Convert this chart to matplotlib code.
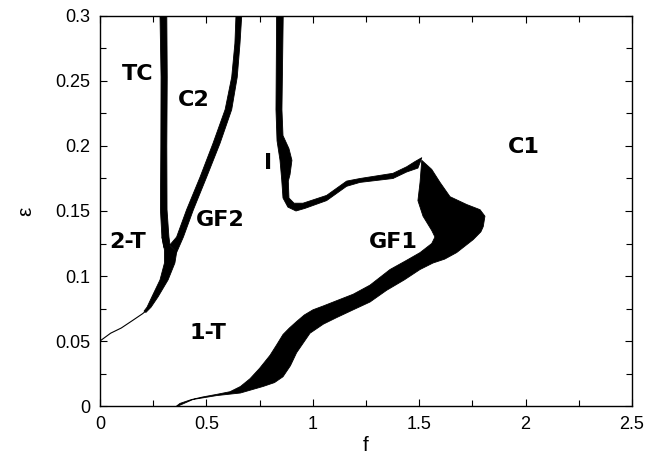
import matplotlib.pyplot as plt

# TC boundary band (left edge top->down, right edge top->down)
tc_left_f = [0.282, 0.287, 0.286, 0.284, 0.291, 0.300]
tc_left_eps = [0.300, 0.253, 0.200, 0.151, 0.130, 0.122]
tc_right_f = [0.314, 0.316, 0.314, 0.315, 0.324, 0.329]
tc_right_eps = [0.300, 0.253, 0.200, 0.151, 0.130, 0.124]

# C2 / GF2 boundary band (left edge top->down, right edge top->down)
c2_left_f = [0.639, 0.634, 0.619, 0.588, 0.531, 0.470, 0.407, 0.360, 0.329]
c2_left_eps = [0.300, 0.279, 0.253, 0.228, 0.202, 0.176, 0.151, 0.130, 0.124]
c2_right_f = [0.666, 0.658, 0.645, 0.619, 0.564, 0.501, 0.439, 0.392, 0.360]
c2_right_eps = [0.300, 0.279, 0.253, 0.228, 0.202, 0.176, 0.151, 0.130, 0.118]

# merged band below the V (left edge top->down, right edge top->down)
low_left_f = [0.291, 0.303, 0.303, 0.282, 0.244, 0.221, 0.207]
low_left_eps = [0.130, 0.120, 0.110, 0.097, 0.084, 0.076, 0.073]
low_right_f = [0.360, 0.352, 0.320, 0.273, 0.240, 0.216]
low_right_eps = [0.118, 0.110, 0.097, 0.084, 0.076, 0.072]

# thin line down to the eps axis
thin_f = [0.000, 0.050, 0.100, 0.155, 0.200, 0.215]
thin_eps = [0.050, 0.056, 0.060, 0.066, 0.071, 0.073]

# I boundary band (outer edge, inner edge)
i_outer_f = [0.830, 0.827, 0.832, 0.846, 0.854, 0.860, 0.883, 0.921, 0.963,
             1.065, 1.159, 1.222, 1.377, 1.441, 1.494, 1.508]
i_outer_eps = [0.300, 0.228, 0.204, 0.189, 0.174, 0.160, 0.153, 0.150, 0.152,
               0.158, 0.169, 0.172, 0.175, 0.180, 0.183, 0.189]
i_inner_f = [0.861, 0.855, 0.860, 0.888, 0.902, 0.893, 0.885, 0.888, 0.912,
             0.954, 1.065, 1.159, 1.222, 1.377, 1.441, 1.480, 1.512]
i_inner_eps = [0.300, 0.228, 0.208, 0.198, 0.189, 0.178, 0.173, 0.160, 0.156,
               0.156, 0.162, 0.173, 0.175, 0.179, 0.184, 0.188, 0.191]

# GF1 band with the blob (upper edge, lower edge, from the f axis up)
gf1_upper_f = [0.360, 0.376, 0.430, 0.484, 0.550, 0.611, 0.660, 0.705, 0.750,
               0.799, 0.830, 0.860, 0.890, 0.924, 0.960, 1.001, 1.050, 1.112,
               1.190, 1.269, 1.363, 1.440, 1.504, 1.559, 1.574, 1.559, 1.518,
               1.494, 1.504, 1.512]
gf1_upper_eps = [0.000, 0.002, 0.005, 0.007, 0.009, 0.011, 0.015, 0.021, 0.029,
                 0.039, 0.047, 0.055, 0.060, 0.065, 0.070, 0.074, 0.077, 0.081,
                 0.086, 0.093, 0.105, 0.112, 0.118, 0.125, 0.130, 0.135, 0.146,
                 0.158, 0.172, 0.189]
gf1_lower_f = [0.367, 0.437, 0.548, 0.660, 0.766, 0.820, 0.860, 0.895, 0.924,
               0.987, 1.050, 1.112, 1.190, 1.269, 1.347, 1.430, 1.504, 1.565,
               1.620, 1.676, 1.754, 1.790, 1.801, 1.809, 1.786, 1.723, 1.645,
               1.598, 1.559]
gf1_lower_eps = [0.000, 0.005, 0.008, 0.010, 0.015, 0.018, 0.0225, 0.031, 0.041,
                 0.056, 0.063, 0.068, 0.074, 0.080, 0.089, 0.097, 0.105, 0.110,
                 0.113, 0.118, 0.128, 0.134, 0.138, 0.146, 0.151, 0.155, 0.161,
                 0.172, 0.182]

region_labels = ['TC', 'C2', 'I', 'C1', '2-T', 'GF2', 'GF1', '1-T']
label_f = [0.179, 0.442, 0.792, 1.990, 0.129, 0.566, 1.379, 0.505]
label_eps = [0.255, 0.235, 0.187, 0.199, 0.126, 0.143, 0.126, 0.0565]

x_ticks = [0, 0.5, 1, 1.5, 2, 2.5]
x_ticklabels = ['0', '0.5', '1', '1.5', '2', '2.5']
x_minor = [0.25, 0.75, 1.25, 1.75, 2.25]
y_ticks = [0, 0.05, 0.1, 0.15, 0.2, 0.25, 0.3]
y_ticklabels = ['0', '0.05', '0.1', '0.15', '0.2', '0.25', '0.3']
y_minor = [0.025, 0.075, 0.125, 0.175, 0.225, 0.275]


def band(ax, f1, e1, f2, e2):
    xs = list(f1) + list(f2)[::-1]
    ys = list(e1) + list(e2)[::-1]
    ax.fill(xs, ys, color='black', lw=0.6, ec='black', joinstyle='round')


def main():
    plt.rcParams['font.family'] = ['Liberation Sans', 'DejaVu Sans']
    fig = plt.figure(figsize=(6.48, 4.61), dpi=100)
    ax = fig.add_axes([0.1543, 0.1193, 0.821, 0.8460])

    band(ax, tc_left_f, tc_left_eps, tc_right_f, tc_right_eps)
    band(ax, c2_left_f, c2_left_eps, c2_right_f, c2_right_eps)
    band(ax, low_left_f, low_left_eps, low_right_f, low_right_eps)
    band(ax, i_outer_f, i_outer_eps, i_inner_f, i_inner_eps)
    band(ax, gf1_upper_f, gf1_upper_eps, gf1_lower_f, gf1_lower_eps)
    ax.plot(thin_f, thin_eps, color='black', lw=0.8)

    for lab, x, y in zip(region_labels, label_f, label_eps):
        ax.text(x, y, lab, fontsize=16, fontweight='bold', ha='center',
                va='center', family=['DejaVu Sans'])

    ax.set_xlim(0, 2.5)
    ax.set_ylim(0, 0.3)
    ax.set_xticks(x_ticks)
    ax.set_xticklabels(x_ticklabels)
    ax.set_xticks(x_minor, minor=True)
    ax.set_yticks(y_ticks)
    ax.set_yticklabels(y_ticklabels)
    ax.set_yticks(y_minor, minor=True)
    ax.tick_params(which='both', direction='in', top=True, right=True,
                   labelsize=13, width=0.8)
    ax.tick_params(which='major', length=5, pad=7)
    ax.tick_params(which='minor', length=4)
    for s in ax.spines.values():
        s.set_linewidth(1.0)

    ax.set_xlabel('f', fontsize=15, labelpad=2)
    ax.set_ylabel('ε', fontsize=15, labelpad=14)

    fig.savefig('out.png', dpi=100)
    plt.close(fig)


if __name__ == "__main__":
    main()
